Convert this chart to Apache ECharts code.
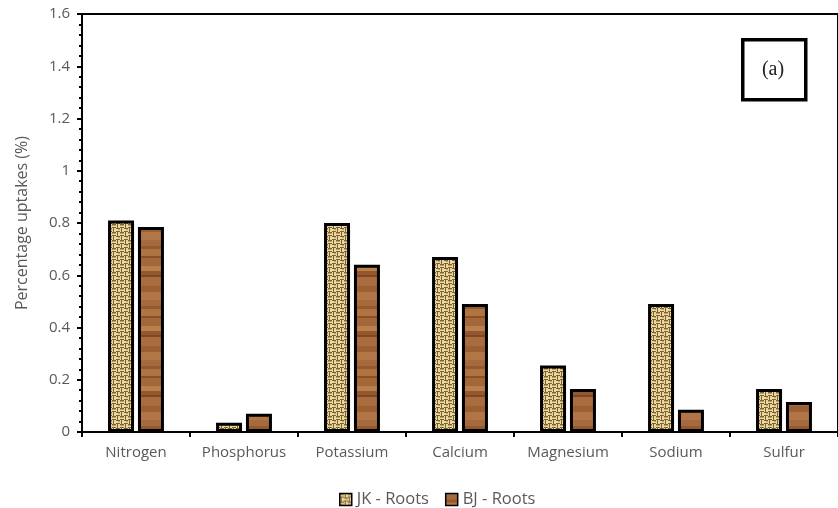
<!DOCTYPE html>
<html lang="en">
<head>
    <meta charset="UTF-8">
    <title>Percentage uptakes - Roots</title>
    <style>
        * { box-sizing: border-box; margin: 0; padding: 0; }
        body { background: #fff; }
        #chart { width: 838px; height: 508px; }
    </style>
    <script src="https://cdn.jsdelivr.net/npm/echarts@6/dist/echarts.min.js"></script>
</head>
<body>
    <div id="chart"></div>

    <script>
        // data
        const elements = ['Nitrogen', 'Phosphorus', 'Potassium', 'Calcium', 'Magnesium', 'Sodium', 'Sulfur'];
        const jkRoots = [0.81, 0.035, 0.80, 0.67, 0.255, 0.49, 0.165];
        const bjRoots = [0.785, 0.07, 0.64, 0.49, 0.165, 0.085, 0.115];
        const seriesNames = ['JK - Roots', 'BJ - Roots'];

        // basket weave texture for JK
        function weavePattern() {
            const c = document.createElement('canvas');
            c.width = 8; c.height = 8;
            const g = c.getContext('2d');
            g.fillStyle = '#ead7a0';
            g.fillRect(0, 0, 8, 8);
            g.fillStyle = '#7d6332';
            g.fillRect(0, 0, 4, 1);
            g.fillRect(0, 3, 4, 1);
            g.fillRect(5, 0, 1, 4);
            g.fillRect(4, 4, 4, 1);
            g.fillRect(4, 7, 4, 1);
            g.fillRect(1, 4, 1, 4);
            g.fillStyle = '#bfa062';
            g.fillRect(0, 1, 4, 1);
            g.fillRect(6, 5, 2, 1);
            return c;
        }

        // wood grain texture for BJ
        function woodPattern() {
            const c = document.createElement('canvas');
            c.width = 10; c.height = 60;
            const g = c.getContext('2d');
            const bands = [['#a56a3e', 6], ['#94592f', 3], ['#b07443', 7], ['#8a5028', 2],
                           ['#a4673a', 8], ['#b9804e', 5], ['#93582e', 4], ['#7f4824', 2],
                           ['#a86c3f', 9], ['#9b5f33', 6], ['#b27646', 8]];
            let y = 0;
            bands.forEach(([col, h]) => {
                g.fillStyle = col;
                g.fillRect(0, y, 10, h);
                y += h;
            });
            return c;
        }

        const chart = echarts.init(document.getElementById('chart'));
        const axisFont = { color: '#595959', fontSize: 15, fontFamily: 'Open Sans' };

        chart.setOption({
            animation: false,
            grid: {
                left: 82, top: 14, width: 774, height: 418,
                show: true, borderColor: '#000', borderWidth: 2
            },
            legend: {
                top: 486, left: 334,
                data: seriesNames,
                icon: 'rect', itemWidth: 12, itemHeight: 12, itemGap: 16,
                itemStyle: { borderColor: '#000', borderWidth: 1.5 },
                textStyle: Object.assign({}, axisFont, { fontSize: 16.5 })
            },
            xAxis: {
                type: 'category',
                data: elements,
                axisLine: { lineStyle: { color: '#000', width: 2 } },
                axisTick: { show: true, interval: 0, length: 5, lineStyle: { color: '#000', width: 2 } },
                axisLabel: Object.assign({ margin: 13, interval: 0 }, axisFont)
            },
            yAxis: {
                type: 'value',
                min: 0, max: 1.6, interval: 0.2,
                name: 'Percentage uptakes (%)',
                nameLocation: 'middle', nameGap: 52,
                nameTextStyle: Object.assign({}, axisFont, { fontSize: 16 }),
                axisLine: { show: true, lineStyle: { color: '#000', width: 2 } },
                axisTick: { show: true, length: 5, lineStyle: { color: '#000', width: 2 } },
                minorTick: { show: true, splitNumber: 5, length: 3, lineStyle: { color: '#000', width: 2 } },
                splitLine: { show: false },
                axisLabel: Object.assign({ margin: 12 }, axisFont)
            },
            series: [
                {
                    name: seriesNames[0], type: 'bar', data: jkRoots,
                    barWidth: 26, barGap: '15%',
                    itemStyle: {
                        color: { image: weavePattern(), repeat: 'repeat' },
                        borderColor: '#000', borderWidth: 3
                    }
                },
                {
                    name: seriesNames[1], type: 'bar', data: bjRoots,
                    barWidth: 26,
                    itemStyle: {
                        color: { image: woodPattern(), repeat: 'repeat' },
                        borderColor: '#000', borderWidth: 3
                    }
                }
            ],
            graphic: [
                {
                    type: 'rect', left: 741, top: 38,
                    shape: { width: 63, height: 60 },
                    style: { fill: '#fff', stroke: '#000', lineWidth: 3.5 }
                },
                {
                    type: 'text', x: 773, y: 70,
                    style: {
                        text: '(a)', font: '20px "Liberation Serif"', fill: '#222',
                        align: 'center', verticalAlign: 'middle'
                    }
                }
            ]
        });
    </script>
</body>
</html>
